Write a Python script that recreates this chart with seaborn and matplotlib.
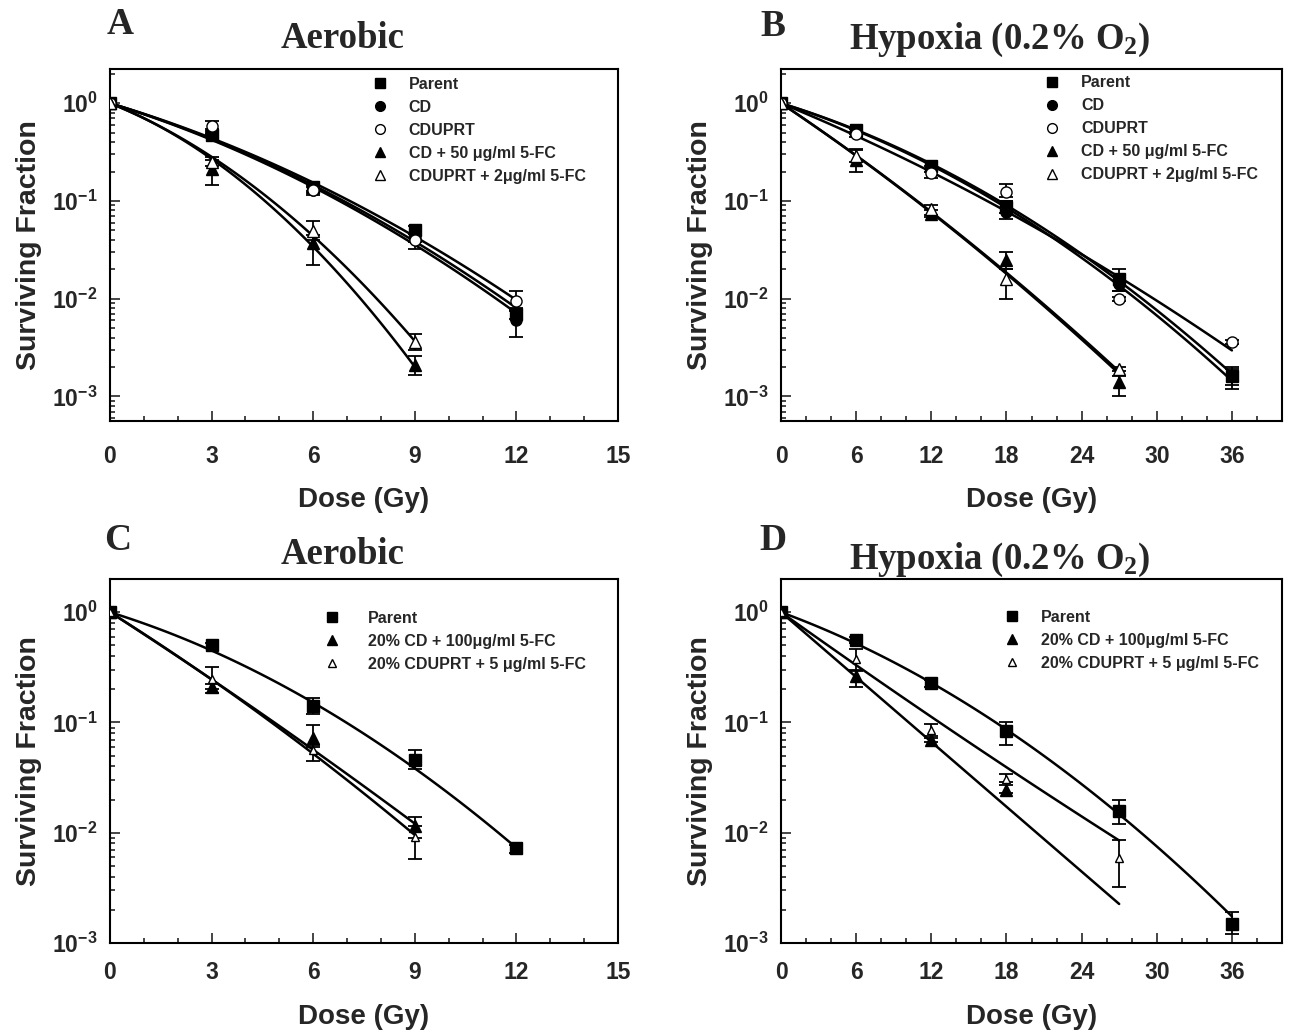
import matplotlib
matplotlib.use("Agg")
import matplotlib.pyplot as plt
from matplotlib.lines import Line2D
from matplotlib.ticker import MultipleLocator, LogLocator, NullFormatter
import seaborn as sns
import numpy as np

# --- DATA ---
# panel A: aerobic
dose_a = [0, 3, 6, 9, 12]
dose_a_trt = [0, 3, 6, 9]
a_parent = [1.0, 0.47, 0.14, 0.05, 0.0069]
a_parent_lo = [1.0, 0.45, 0.125, 0.046, 0.0062]
a_parent_hi = [1.0, 0.50, 0.15, 0.055, 0.0076]
a_cd = [1.0, 0.52, 0.13, 0.042, 0.0060]
a_cd_lo = [1.0, 0.49, 0.12, 0.038, 0.0041]
a_cd_hi = [1.0, 0.55, 0.14, 0.046, 0.0075]
a_cduprt = [1.0, 0.59, 0.128, 0.040, 0.0095]
a_cduprt_lo = [1.0, 0.52, 0.115, 0.032, 0.0080]
a_cduprt_hi = [1.0, 0.66, 0.145, 0.046, 0.0120]
a_cd50 = [1.0, 0.21, 0.037, 0.0021]
a_cd50_lo = [1.0, 0.147, 0.022, 0.00167]
a_cd50_hi = [1.0, 0.26, 0.045, 0.0026]
a_cduprt2 = [1.0, 0.25, 0.049, 0.0036]
a_cduprt2_lo = [1.0, 0.23, 0.040, 0.0030]
a_cduprt2_hi = [1.0, 0.28, 0.062, 0.0044]

# panel B: hypoxia
dose_b = [0, 6, 12, 18, 27, 36]
dose_b_trt = [0, 6, 12, 18, 27]
b_parent = [1.0, 0.53, 0.227, 0.087, 0.016, 0.0016]
b_parent_lo = [1.0, 0.50, 0.21, 0.075, 0.012, 0.0012]
b_parent_hi = [1.0, 0.57, 0.25, 0.10, 0.020, 0.0020]
b_cd = [1.0, 0.51, 0.215, 0.077, 0.014, 0.0016]
b_cd_lo = [1.0, 0.48, 0.20, 0.065, 0.012, 0.0013]
b_cd_hi = [1.0, 0.54, 0.23, 0.10, 0.017, 0.0019]
b_cduprt = [1.0, 0.48, 0.194, 0.124, 0.010, 0.0036]
b_cduprt_lo = [1.0, 0.45, 0.17, 0.11, 0.0095, 0.0034]
b_cduprt_hi = [1.0, 0.51, 0.21, 0.15, 0.0105, 0.0038]
b_cd50 = [1.0, 0.26, 0.074, 0.025, 0.0014]
b_cd50_lo = [1.0, 0.20, 0.068, 0.020, 0.0010]
b_cd50_hi = [1.0, 0.33, 0.080, 0.030, 0.0018]
b_cduprt2 = [1.0, 0.29, 0.082, 0.016, 0.0019]
b_cduprt2_lo = [1.0, 0.25, 0.072, 0.010, 0.0016]
b_cduprt2_hi = [1.0, 0.34, 0.090, 0.020, 0.0020]

# panel C: aerobic, 20% mixed populations
dose_c = [0, 3, 6, 9, 12]
dose_c_trt = [0, 3, 6, 9]
c_parent = [1.0, 0.50, 0.14, 0.046, 0.0072]
c_parent_lo = [1.0, 0.47, 0.12, 0.038, 0.0066]
c_parent_hi = [1.0, 0.53, 0.165, 0.056, 0.0078]
c_cd100 = [1.0, 0.21, 0.073, 0.0115]
c_cd100_lo = [1.0, 0.185, 0.060, 0.009]
c_cd100_hi = [1.0, 0.225, 0.095, 0.014]
c_cduprt5 = [1.0, 0.25, 0.056, 0.0091]
c_cduprt5_lo = [1.0, 0.20, 0.045, 0.0058]
c_cduprt5_hi = [1.0, 0.32, 0.062, 0.0115]

# panel D: hypoxia, 20% mixed populations
dose_d = [0, 6, 12, 18, 27, 36]
dose_d_cd = [0, 6, 12, 18]
dose_d_cduprt = [0, 6, 12, 18, 27]
d_parent = [1.0, 0.56, 0.226, 0.083, 0.0158, 0.0015]
d_parent_lo = [1.0, 0.53, 0.21, 0.063, 0.012, 0.0012]
d_parent_hi = [1.0, 0.59, 0.245, 0.10, 0.020, 0.0019]
d_cd100 = [1.0, 0.265, 0.070, 0.0245]
d_cd100_lo = [1.0, 0.21, 0.066, 0.023]
d_cd100_hi = [1.0, 0.30, 0.075, 0.027]
d_cduprt5 = [1.0, 0.38, 0.085, 0.031, 0.0059]
d_cduprt5_lo = [1.0, 0.29, 0.073, 0.029, 0.0032]
d_cduprt5_hi = [1.0, 0.46, 0.096, 0.034, 0.0086]

# linear-quadratic fit parameters (log10 SF = -(a*D + b*D^2))
lq_a = [(0.105, 0.0058), (0.107, 0.0060), (0.103, 0.0054), (0.135, 0.0183), (0.139, 0.0146)]
lq_b = [(0.0391, 0.00105), (0.0400, 0.00108), (0.0528, 0.000485), (0.0859, 0.000617), (0.0855, 0.00060)]
lq_c = [(0.0953, 0.0069), (0.198, 0.00167), (0.193, 0.0035)]
lq_d = [(0.0417, 0.00097), (0.098, 0.0), (0.081, -0.00016)]
fit_end_a = [12, 12, 12, 9, 9]
fit_end_b = [36, 36, 36, 27, 27]
fit_end_c = [12, 9, 9]
fit_end_d = [36, 27, 27]

labels_ab = ["Parent", "CD", "CDUPRT", "CD + 50 \u03bcg/ml 5-FC", "CDUPRT + 2\u03bcg/ml 5-FC"]
labels_cd = ["Parent", "20% CD + 100\u03bcg/ml 5-FC", "20% CDUPRT + 5 \u03bcg/ml 5-FC"]

# marker, filled
STY_AB = [("s", True), ("o", True), ("o", False), ("^", True), ("^", False)]
STY_CD = [("s", True), ("^", True), ("^", False)]

sns.set_theme(style="ticks")
plt.rcParams["font.family"] = ["Liberation Sans", "DejaVu Sans"]
plt.rcParams["font.weight"] = "bold"
plt.rcParams["mathtext.default"] = "regular"
SERIF = ["Liberation Serif", "DejaVu Serif"]

fig = plt.figure(figsize=(12.94, 10.32), dpi=100)


def draw_panel(ax, series, fits, ends, styles, labels, xmax, xmaj, xmin, ylim,
               leg_anchor, small_open=False, textpad=1.3):
    for (dose, sf, lo, hi), (a, b), dend, (mk, filled) in zip(series, fits, ends, styles):
        xs = np.linspace(0, dend, 120)
        ys = 10 ** (-(a * xs + b * xs ** 2))
        sns.lineplot(x=xs, y=ys, ax=ax, color="black", lw=1.8, estimator=None,
                     sort=False, zorder=2)
        sf = np.array(sf)
        yerr = [sf - np.array(lo), np.array(hi) - sf]
        ax.errorbar(dose, sf, yerr=yerr, fmt="none", ecolor="black", elinewidth=1.3,
                    capsize=5, capthick=1.3, zorder=3)
        ms = 6 if (small_open and not filled) else 8
        ax.plot(dose, sf, ls="none", marker=mk, ms=ms, mec="black", mew=1.0,
                mfc="black" if filled else "white", zorder=4)

    ax.set_yscale("log")
    ax.set_xlim(0, xmax)
    ax.set_ylim(*ylim)
    ax.xaxis.set_major_locator(MultipleLocator(xmaj))
    ax.xaxis.set_minor_locator(MultipleLocator(xmin))
    ax.yaxis.set_major_locator(LogLocator(base=10, numticks=10))
    ax.yaxis.set_minor_locator(LogLocator(base=10, subs=np.arange(2, 10), numticks=20))
    ax.yaxis.set_minor_formatter(NullFormatter())
    ax.tick_params(which="both", direction="in", top=False, right=False, width=1.2,
                   labelsize=16.5)
    ax.tick_params(which="major", length=7)
    ax.tick_params(which="minor", length=3.5)
    ax.tick_params(axis="y", which="major", pad=9)
    for s in ax.spines.values():
        s.set_linewidth(1.5)
        s.set_color("black")
    ax.set_xlabel("Dose (Gy)", fontsize=20, fontweight="bold", labelpad=14)
    ax.set_ylabel("Surviving Fraction", fontsize=20.5, fontweight="bold", labelpad=7)

    handles = []
    for (mk, filled), lab in zip(styles, labels):
        ms = 5.5 if (small_open and not filled) else 7
        handles.append(Line2D([], [], ls="none", marker=mk, ms=ms, mec="black", mew=1.0,
                              mfc="black" if filled else "white", label=lab))
    ax.legend(handles=handles, loc="upper left", bbox_to_anchor=leg_anchor, frameon=False,
              borderpad=0, handlelength=1.0, handletextpad=textpad, labelspacing=0.5,
              prop={"weight": "bold", "size": 11.5})


W, H = 1294, 1032
ax_a = fig.add_axes([110 / W, 1 - 421 / H, 508 / W, 352 / H])
ax_b = fig.add_axes([781 / W, 1 - 421 / H, 501 / W, 352 / H])
ax_c = fig.add_axes([110 / W, 1 - 943 / H, 508 / W, 364 / H])
ax_d = fig.add_axes([781 / W, 1 - 943 / H, 501 / W, 364 / H])

ser_a = [(dose_a, a_parent, a_parent_lo, a_parent_hi),
         (dose_a, a_cd, a_cd_lo, a_cd_hi),
         (dose_a, a_cduprt, a_cduprt_lo, a_cduprt_hi),
         (dose_a_trt, a_cd50, a_cd50_lo, a_cd50_hi),
         (dose_a_trt, a_cduprt2, a_cduprt2_lo, a_cduprt2_hi)]
ser_b = [(dose_b, b_parent, b_parent_lo, b_parent_hi),
         (dose_b, b_cd, b_cd_lo, b_cd_hi),
         (dose_b, b_cduprt, b_cduprt_lo, b_cduprt_hi),
         (dose_b_trt, b_cd50, b_cd50_lo, b_cd50_hi),
         (dose_b_trt, b_cduprt2, b_cduprt2_lo, b_cduprt2_hi)]
ser_c = [(dose_c, c_parent, c_parent_lo, c_parent_hi),
         (dose_c_trt, c_cd100, c_cd100_lo, c_cd100_hi),
         (dose_c_trt, c_cduprt5, c_cduprt5_lo, c_cduprt5_hi)]
ser_d = [(dose_d, d_parent, d_parent_lo, d_parent_hi),
         (dose_d_cd, d_cd100, d_cd100_lo, d_cd100_hi),
         (dose_d_cduprt, d_cduprt5, d_cduprt5_lo, d_cduprt5_hi)]

draw_panel(ax_a, ser_a, lq_a, fit_end_a, STY_AB, labels_ab, 15, 3, 1, (5.6e-4, 2.24),
           (0.5, 1.0))
draw_panel(ax_b, ser_b, lq_b, fit_end_b, STY_AB, labels_ab, 40, 6, 2, (5.6e-4, 2.24),
           (0.51, 1.005))
draw_panel(ax_c, ser_c, lq_c, fit_end_c, STY_CD, labels_cd, 15, 3, 1, (1e-3, 2.0),
           (0.405, 0.935), small_open=True, textpad=1.75)
draw_panel(ax_d, ser_d, lq_d, fit_end_d, STY_CD, labels_cd, 40, 6, 2, (1e-3, 2.0),
           (0.43, 0.937), small_open=True)

for ax in (ax_a, ax_b):
    ax.tick_params(axis="x", which="major", pad=17)
for ax in (ax_c, ax_d):
    ax.tick_params(axis="x", which="major", pad=13)

# panel letters and titles
for x, y, s in [(120, 25, "A"), (773, 27, "B"), (118, 540, "C"), (773, 540, "D")]:
    fig.text(x / W, 1 - y / H, s, family=SERIF, fontsize=27, fontweight="bold",
             ha="center", va="center")
for x, y, s in [(343, 38, "Aerobic"), (1000, 40, "Hypoxia (0.2% O$_2$)"),
                (343, 555, "Aerobic"), (1000, 560, "Hypoxia (0.2% O$_2$)")]:
    fig.text(x / W, 1 - y / H, s, family=SERIF, fontsize=26.5, fontweight="bold",
             ha="center", va="center")

fig.savefig("out.png", dpi=100, facecolor="white")
